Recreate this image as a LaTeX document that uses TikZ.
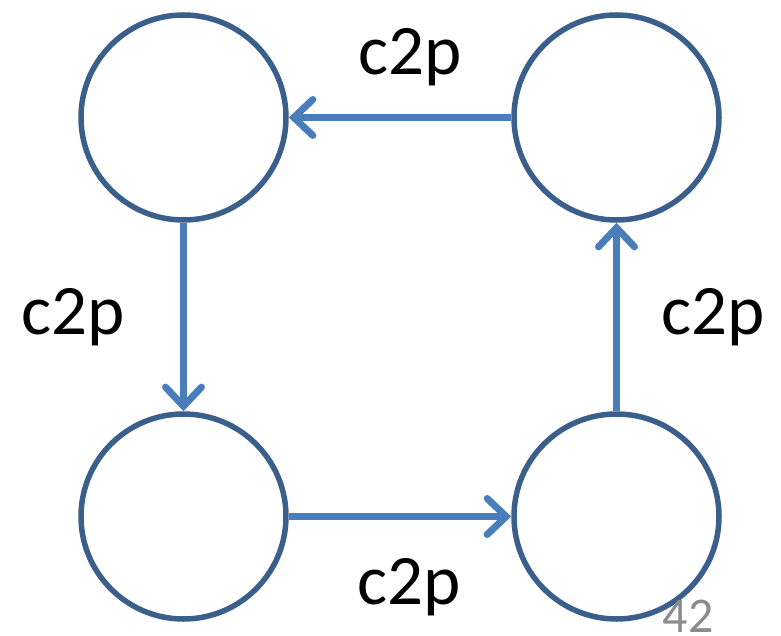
\documentclass[tikz,border=0pt]{standalone}
\usepackage{fontspec}
\setmainfont{Carlito}
\usetikzlibrary{arrows.meta}
\definecolor{circ}{HTML}{3A5F8B}
\definecolor{arr}{HTML}{4A7EBB}
\definecolor{pg}{HTML}{8C8C8C}
\tikzset{
  state/.style={circle,draw=circ,line width=5.5pt,minimum size=205pt,inner sep=0pt},
  flow/.style={draw=arr,line width=7pt,-{Straight Barb[length=19pt,width=36pt,line cap=round]}},
  lbl/.style={anchor=base,font=\fontsize{71}{85}\selectfont,inner sep=0pt},
}
\begin{document}
\begin{tikzpicture}[x=1pt,y=-1pt]
\useasboundingbox (0,0) rectangle (781,636);
\node[state] (tl) at (183.5,117.5) {};
\node[state] (tr) at (616.5,117.5) {};
\node[state] (bl) at (183.5,516.5) {};
\node[state] (br) at (616.5,516.5) {};
\draw[flow] (tr.west) -- (tl.east);
\draw[flow] (tl.south) -- (bl.north);
\draw[flow] (bl.east) -- (br.west);
\draw[flow] (br.north) -- (tr.south);
\node[lbl] (t1) at (410,75) {c2p};
\node[lbl] (t2) at (73,334) {c2p};
\node[lbl] (t3) at (713,334) {c2p};
\node[lbl] (t4) at (409,604) {c2p};
\node[anchor=base,font=\fontsize{50}{60}\selectfont,text=pg,inner sep=0pt] (pn) at (688,632) {42};
\end{tikzpicture}
\end{document}
